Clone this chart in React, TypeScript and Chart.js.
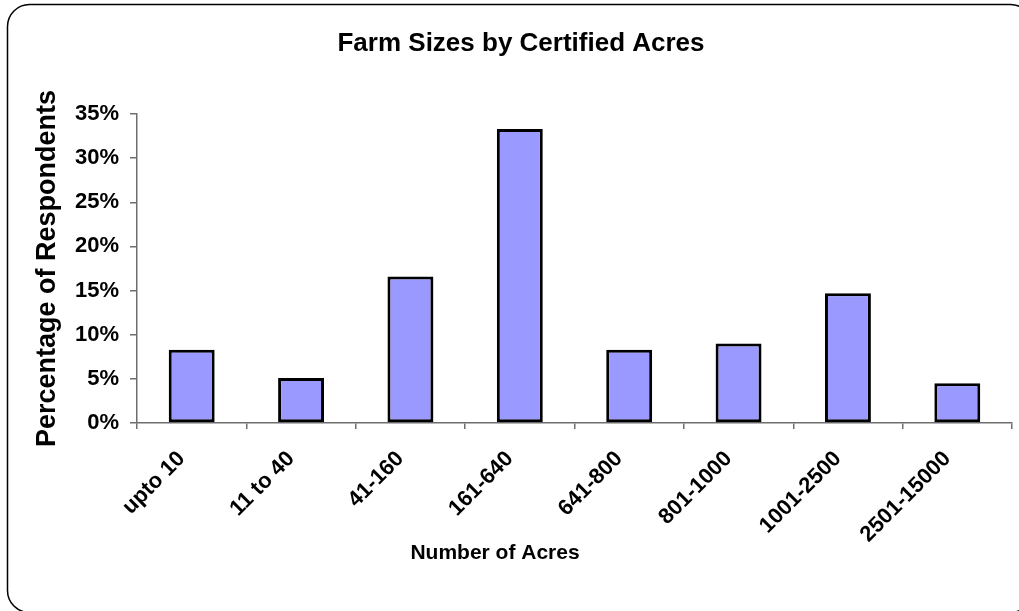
import React, { useEffect, useRef } from "react";
import { Chart, registerables } from "chart.js";

Chart.register(...registerables);

const TITLE = "Farm Sizes by Certified Acres";
const X_TITLE = "Number of Acres";
const Y_TITLE = "Percentage of Respondents";
const CATEGORIES = [
  "upto 10",
  "11 to 40",
  "41-160",
  "161-640",
  "641-800",
  "801-1000",
  "1001-2500",
  "2501-15000",
];
const PERCENT_RESPONDENTS = [8.3, 5.1, 16.6, 33.3, 8.3, 9.0, 14.7, 4.5];
const Y_TICK_VALUES = [0, 5, 10, 15, 20, 25, 30, 35];

const FONT = "'Liberation Sans', Arial, sans-serif";
const W = 1019;
const H = 611;

const framePlugin = {
  id: "frame",
  beforeDraw(chart: any) {
    const ctx = chart.ctx;
    ctx.save();
    ctx.fillStyle = "#ffffff";
    ctx.fillRect(0, 0, chart.width, chart.height);
    ctx.beginPath();
    ctx.lineWidth = 1.5;
    ctx.strokeStyle = "#000000";
    ctx.roundRect(7.5, 4.5, 1025, 608, 22);
    ctx.stroke();
    ctx.restore();
  },
};

const xTitlePlugin = {
  id: "xTitle",
  afterDraw(chart: any) {
    const ctx = chart.ctx;
    ctx.save();
    ctx.font = `bold 21px ${FONT}`;
    ctx.fillStyle = "#000000";
    ctx.textAlign = "center";
    ctx.textBaseline = "middle";
    ctx.fillText(X_TITLE, 495, 553);
    ctx.restore();
  },
};

export default function App() {
  const ref = useRef<HTMLCanvasElement | null>(null);

  useEffect(() => {
    if (!ref.current) return;
    const chart = new Chart(ref.current, {
      type: "bar",
      data: {
        labels: CATEGORIES,
        datasets: [
          {
            data: PERCENT_RESPONDENTS,
            backgroundColor: "#9999FF",
            borderColor: "#000000",
            borderWidth: 3,
            borderSkipped: false,
            categoryPercentage: 1,
            barPercentage: 0.42,
          },
        ],
      },
      options: {
        responsive: false,
        animation: false,
        layout: { padding: { left: 30, right: 7, top: 0, bottom: 0 } },
        plugins: {
          legend: { display: false },
          tooltip: { enabled: false },
          title: {
            display: true,
            text: TITLE,
            color: "#000000",
            font: { family: FONT, size: 26, weight: "bold" },
            padding: { top: 28, bottom: 54.8 },
          },
        },
        scales: {
          x: {
            border: { display: true, color: "#6e6e6e", width: 1.5 },
            grid: {
              display: true,
              offset: true,
              drawOnChartArea: false,
              drawTicks: true,
              tickLength: 6,
              color: "#6e6e6e",
              lineWidth: 1.5,
            },
            ticks: {
              autoSkip: false,
              minRotation: 45,
              maxRotation: 45,
              padding: 17,
              labelOffset: -10,
              color: "#000000",
              font: { family: FONT, size: 22, weight: "bold" },
            },
            afterFit(scale: any) {
              scale.height = 188;
            },
          },
          y: {
            min: Y_TICK_VALUES[0],
            max: Y_TICK_VALUES[Y_TICK_VALUES.length - 1],
            border: { display: true, color: "#6e6e6e", width: 1.5 },
            grid: {
              display: true,
              drawOnChartArea: false,
              drawTicks: true,
              tickLength: 7,
              color: "#6e6e6e",
              lineWidth: 1.5,
            },
            ticks: {
              stepSize: Y_TICK_VALUES[1] - Y_TICK_VALUES[0],
              padding: 11,
              color: "#000000",
              font: { family: FONT, size: 22, weight: "bold" },
              callback: (v: any) => `${v}%`,
            },
            title: {
              display: true,
              text: Y_TITLE,
              color: "#000000",
              font: { family: FONT, size: 27, weight: "bold" },
              padding: { top: 1, bottom: 0 },
            },
            afterFit(scale: any) {
              scale.width = 107;
            },
          },
        },
      },
      plugins: [framePlugin, xTitlePlugin],
    });
    return () => chart.destroy();
  }, []);

  return (
    <div style={{ position: "fixed", left: 0, top: 0, width: W, height: H, background: "#fff" }}>
      <canvas ref={ref} width={W} height={H} style={{ display: "block", width: W, height: H }} />
    </div>
  );
}
